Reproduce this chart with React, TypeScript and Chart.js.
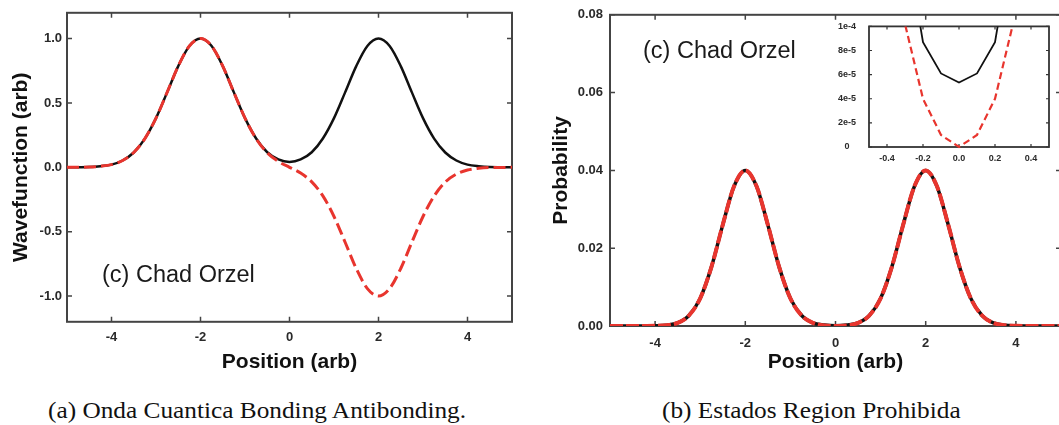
import React, { useEffect, useRef } from 'react';
import { Chart, registerables } from 'chart.js';

Chart.register(...registerables);

// ---------- data ----------
const positions = [
  -5, -4.75, -4.5, -4.25, -4, -3.75, -3.5, -3.25, -3, -2.75, -2.5, -2.25, -2, -1.75, -1.5, -1.25, -1, -0.75, -0.5, -0.25,
  0, 0.25, 0.5, 0.75, 1, 1.25, 1.5, 1.75, 2, 2.25, 2.5, 2.75, 3, 3.25, 3.5, 3.75, 4, 4.25, 4.5, 4.75, 5,
];

const bondingWave = [
  0, 0.001, 0.002, 0.008, 0.021, 0.053, 0.115, 0.223, 0.382, 0.582, 0.786, 0.942, 1, 0.942, 0.786, 0.582, 0.382, 0.224, 0.117, 0.061,
  0.042, 0.061, 0.117, 0.224, 0.382, 0.582, 0.786, 0.942, 1, 0.942, 0.786, 0.582, 0.382, 0.223, 0.115, 0.053, 0.021, 0.008, 0.002, 0.001, 0,
];

const antibondingWave = [
  0, 0.001, 0.002, 0.008, 0.021, 0.053, 0.115, 0.223, 0.382, 0.582, 0.786, 0.942, 1, 0.942, 0.786, 0.582, 0.382, 0.222, 0.113, 0.045,
  0, -0.045, -0.113, -0.222, -0.382, -0.582, -0.786, -0.942, -1, -0.942, -0.786, -0.582, -0.382, -0.223, -0.115, -0.053, -0.021, -0.008, -0.002, -0.001, 0,
];

const bondingProb = [
  0, 0, 0, 0.00001, 0.00004, 0.0002, 0.0008, 0.0027, 0.0071, 0.0152, 0.026, 0.0359, 0.04, 0.0359, 0.026, 0.0152, 0.0071, 0.0027, 0.0008, 0.00025,
  0.00005, 0.00025, 0.0008, 0.0027, 0.0071, 0.0152, 0.026, 0.0359, 0.04, 0.0359, 0.026, 0.0152, 0.0071, 0.0027, 0.0008, 0.0002, 0.00004, 0.00001, 0, 0, 0,
];

const antibondingProb = [
  0, 0, 0, 0.00001, 0.00004, 0.0002, 0.0008, 0.0027, 0.0071, 0.0152, 0.026, 0.0359, 0.04, 0.0359, 0.026, 0.0152, 0.0071, 0.0027, 0.0008, 0.00012,
  0, 0.00012, 0.0008, 0.0027, 0.0071, 0.0152, 0.026, 0.0359, 0.04, 0.0359, 0.026, 0.0152, 0.0071, 0.0027, 0.0008, 0.0002, 0.00004, 0.00001, 0, 0, 0,
];

const insetPositions = [-0.4, -0.3, -0.2, -0.1, 0, 0.1, 0.2, 0.3, 0.4];
const insetBonding = [0.0003, 0.000175, 0.000087, 0.000061, 0.0000535, 0.000061, 0.000087, 0.000175, 0.0003];
const insetAntibonding = [0.0002, 0.000102, 0.00004, 0.00001, 0, 0.00001, 0.00004, 0.000102, 0.0002];

const waveXTicks = [-4, -2, 0, 2, 4];
const waveXLabels = ['-4', '-2', '0', '2', '4'];
const waveYTicks = [-1, -0.5, 0, 0.5, 1];
const waveYLabels = ['-1.0', '-0.5', '0.0', '0.5', '1.0'];
const probYTicks = [0, 0.02, 0.04, 0.06, 0.08];
const probYLabels = ['0.00', '0.02', '0.04', '0.06', '0.08'];
const insetXTicks = [-0.4, -0.2, 0, 0.2, 0.4];
const insetXLabels = ['-0.4', '-0.2', '0.0', '0.2', '0.4'];
const insetYTicks = [0, 0.00002, 0.00004, 0.00006, 0.00008, 0.0001];
const insetYLabels = ['0', '2e-5', '4e-5', '6e-5', '8e-5', '1e-4'];

// ---------- styles ----------
const RED = '#e8352e';
const BLACK = '#111111';
const SANS = '"Liberation Sans", Arial, Helvetica, sans-serif';
const SERIF = '"Liberation Serif", "Times New Roman", serif';

const pts = (xs: number[], ys: number[]) => xs.map((x, i) => ({ x, y: ys[i] }));

function framePlugin(color: string, width: number, tickLen: number, tickWidth: number, fillWhite: boolean) {
  return {
    id: 'frame',
    beforeDatasetsDraw(chart: any) {
      const { ctx, chartArea: a, scales } = chart;
      ctx.save();
      if (fillWhite) {
        ctx.fillStyle = '#ffffff';
        ctx.fillRect(a.left, a.top, a.right - a.left, a.bottom - a.top);
      }
      ctx.strokeStyle = color;
      ctx.lineWidth = tickWidth;
      ctx.beginPath();
      for (const t of scales.x.ticks) {
        const px = scales.x.getPixelForValue(t.value);
        ctx.moveTo(px, a.bottom);
        ctx.lineTo(px, a.bottom - tickLen);
        ctx.moveTo(px, a.top);
        ctx.lineTo(px, a.top + tickLen);
      }
      for (const t of scales.y.ticks) {
        const py = scales.y.getPixelForValue(t.value);
        ctx.moveTo(a.left, py);
        ctx.lineTo(a.left + tickLen, py);
        ctx.moveTo(a.right, py);
        ctx.lineTo(a.right - tickLen, py);
      }
      ctx.stroke();
      ctx.lineWidth = width;
      ctx.strokeRect(a.left, a.top, a.right - a.left, a.bottom - a.top);
      ctx.restore();
    },
  };
}

function axis(
  min: number,
  max: number,
  tickValues: number[],
  tickLabels: string[],
  fontSize: number,
  tickPadding: number,
  fit: (s: any) => void,
  title?: { text: string; padding: any },
  crossAlign: 'near' | 'center' | 'far' = 'near'
) {
  return {
    type: 'linear',
    min,
    max,
    grid: { display: false, drawTicks: false },
    border: { display: false },
    afterBuildTicks: (scale: any) => {
      scale.ticks = tickValues.map((v) => ({ value: v }));
    },
    afterFit: fit,
    ticks: {
      autoSkip: false,
      maxRotation: 0,
      padding: tickPadding,
      crossAlign,
      color: '#2a2a2a',
      font: { family: SANS, size: fontSize, weight: 'bold' },
      callback: (_v: any, i: number) => tickLabels[i],
    },
    title: title
      ? {
          display: true,
          text: title.text,
          color: BLACK,
          font: { family: SANS, size: 21, weight: 'bold' },
          padding: title.padding,
        }
      : { display: false },
  };
}

const baseOptions = {
  responsive: false,
  animation: false,
  devicePixelRatio: 1,
  events: [],
  plugins: { legend: { display: false }, tooltip: { enabled: false } },
};

export default function App() {
  const leftRef = useRef<HTMLCanvasElement>(null);
  const rightRef = useRef<HTMLCanvasElement>(null);
  const insetRef = useRef<HTMLCanvasElement>(null);

  useEffect(() => {
    const charts: Chart[] = [];

    charts.push(
      new Chart(leftRef.current as HTMLCanvasElement, {
        type: 'line',
        data: {
          datasets: [
            {
              label: 'Antibonding',
              data: pts(positions, antibondingWave),
              borderColor: RED,
              borderWidth: 3,
              borderDash: [12, 5],
              pointRadius: 0,
              cubicInterpolationMode: 'monotone',
              order: 0,
            },
            {
              label: 'Bonding',
              data: pts(positions, bondingWave),
              borderColor: BLACK,
              borderWidth: 2.5,
              pointRadius: 0,
              cubicInterpolationMode: 'monotone',
              order: 1,
            },
          ],
        },
        options: {
          ...baseOptions,
          layout: { padding: { top: 9.8, right: 18, left: 0, bottom: 0 } },
          scales: {
            x: axis(-5, 5, waveXTicks, waveXLabels, 13, 7.4, (s) => { s.height = 58.2; }, { text: 'Position (arb)', padding: { top: 0, bottom: 5.4 } }),
            y: axis(-1.2, 1.2, waveYTicks, waveYLabels, 13, 5, (s) => { s.width = 67; }, { text: 'Wavefunction (arb)', padding: { top: 9, bottom: 0 } }),
          },
        } as any,
        plugins: [framePlugin('#444444', 2, 5, 1.5, false)],
      } as any)
    );

    charts.push(
      new Chart(rightRef.current as HTMLCanvasElement, {
        type: 'line',
        data: {
          datasets: [
            {
              label: 'Antibonding',
              data: pts(positions, antibondingProb),
              borderColor: RED,
              borderWidth: 4,
              borderDash: [13, 3],
              pointRadius: 0,
              cubicInterpolationMode: 'monotone',
              order: 0,
            },
            {
              label: 'Bonding',
              data: pts(positions, bondingProb),
              borderColor: BLACK,
              borderWidth: 3.5,
              pointRadius: 0,
              cubicInterpolationMode: 'monotone',
              order: 1,
            },
          ],
        },
        options: {
          ...baseOptions,
          layout: { padding: { top: 12.5, right: 0, left: 0, bottom: 0 } },
          scales: {
            x: axis(-5, 5, waveXTicks, waveXLabels, 13, 9.2, (s) => { s.height = 54; }, { text: 'Position (arb)', padding: { top: 0, bottom: 5.4 } }),
            y: axis(0, 0.08, probYTicks, probYLabels, 13, 7, (s) => { s.width = 80; }, { text: 'Probability', padding: { top: 18.4, bottom: 0 } }),
          },
        } as any,
        plugins: [framePlugin('#444444', 2, 5, 1.5, false)],
      } as any)
    );

    charts.push(
      new Chart(insetRef.current as HTMLCanvasElement, {
        type: 'line',
        data: {
          datasets: [
            {
              label: 'Antibonding',
              data: pts(insetPositions, insetAntibonding),
              borderColor: RED,
              borderWidth: 2.2,
              borderDash: [7, 4],
              pointRadius: 0,
              tension: 0,
              clip: { left: 0, right: 0, top: 0, bottom: 3 },
              order: 0,
            },
            {
              label: 'Bonding',
              data: pts(insetPositions, insetBonding),
              borderColor: BLACK,
              borderWidth: 1.8,
              pointRadius: 0,
              tension: 0,
              clip: { left: 0, right: 0, top: 0, bottom: 3 },
              order: 1,
            },
          ],
        },
        options: {
          ...baseOptions,
          layout: { padding: { top: 14, right: 6, left: 0, bottom: 0 } },
          scales: {
            x: axis(-0.5, 0.5, insetXTicks, insetXLabels, 9, 6.6, (s) => { s.height = 26; }),
            y: axis(0, 0.0001, insetYTicks, insetYLabels, 9, 13, (s) => { s.width = 44; }, undefined, 'center'),
          },
        } as any,
        plugins: [framePlugin('#333333', 1.8, 3, 1.2, true)],
      } as any)
    );

    return () => charts.forEach((c) => c.destroy());
  }, []);

  const credit: React.CSSProperties = {
    position: 'absolute',
    fontFamily: SANS,
    fontSize: 23.5,
    lineHeight: '23.5px',
    color: '#1a1a1a',
    whiteSpace: 'nowrap',
  };
  const caption: React.CSSProperties = {
    position: 'absolute',
    fontFamily: SERIF,
    fontSize: 23,
    lineHeight: '23px',
    color: '#111',
    whiteSpace: 'nowrap',
    transform: 'scaleX(1.1)',
    transformOrigin: '0 0',
  };

  return (
    <div
      style={{
        position: 'absolute',
        left: 0,
        top: 0,
        width: 1059,
        height: 425,
        overflow: 'hidden',
        background: '#ffffff',
      }}
    >
      <canvas ref={leftRef} width={530} height={380} style={{ position: 'absolute', left: 0, top: 0 }} />
      <canvas ref={rightRef} width={531} height={380} style={{ position: 'absolute', left: 530, top: 0 }} />
      <canvas ref={insetRef} width={230} height={165} style={{ position: 'absolute', left: 825, top: 8 }} />
      <div style={{ ...credit, left: 102, top: 263 }}>(c) Chad Orzel</div>
      <div style={{ ...credit, left: 643, top: 38.7 }}>(c) Chad Orzel</div>
      <div style={{ ...caption, left: 48, top: 398.5 }}>(a) Onda Cuantica Bonding Antibonding.</div>
      <div style={{ ...caption, left: 662, top: 398.5 }}>(b) Estados Region Prohibida</div>
    </div>
  );
}
